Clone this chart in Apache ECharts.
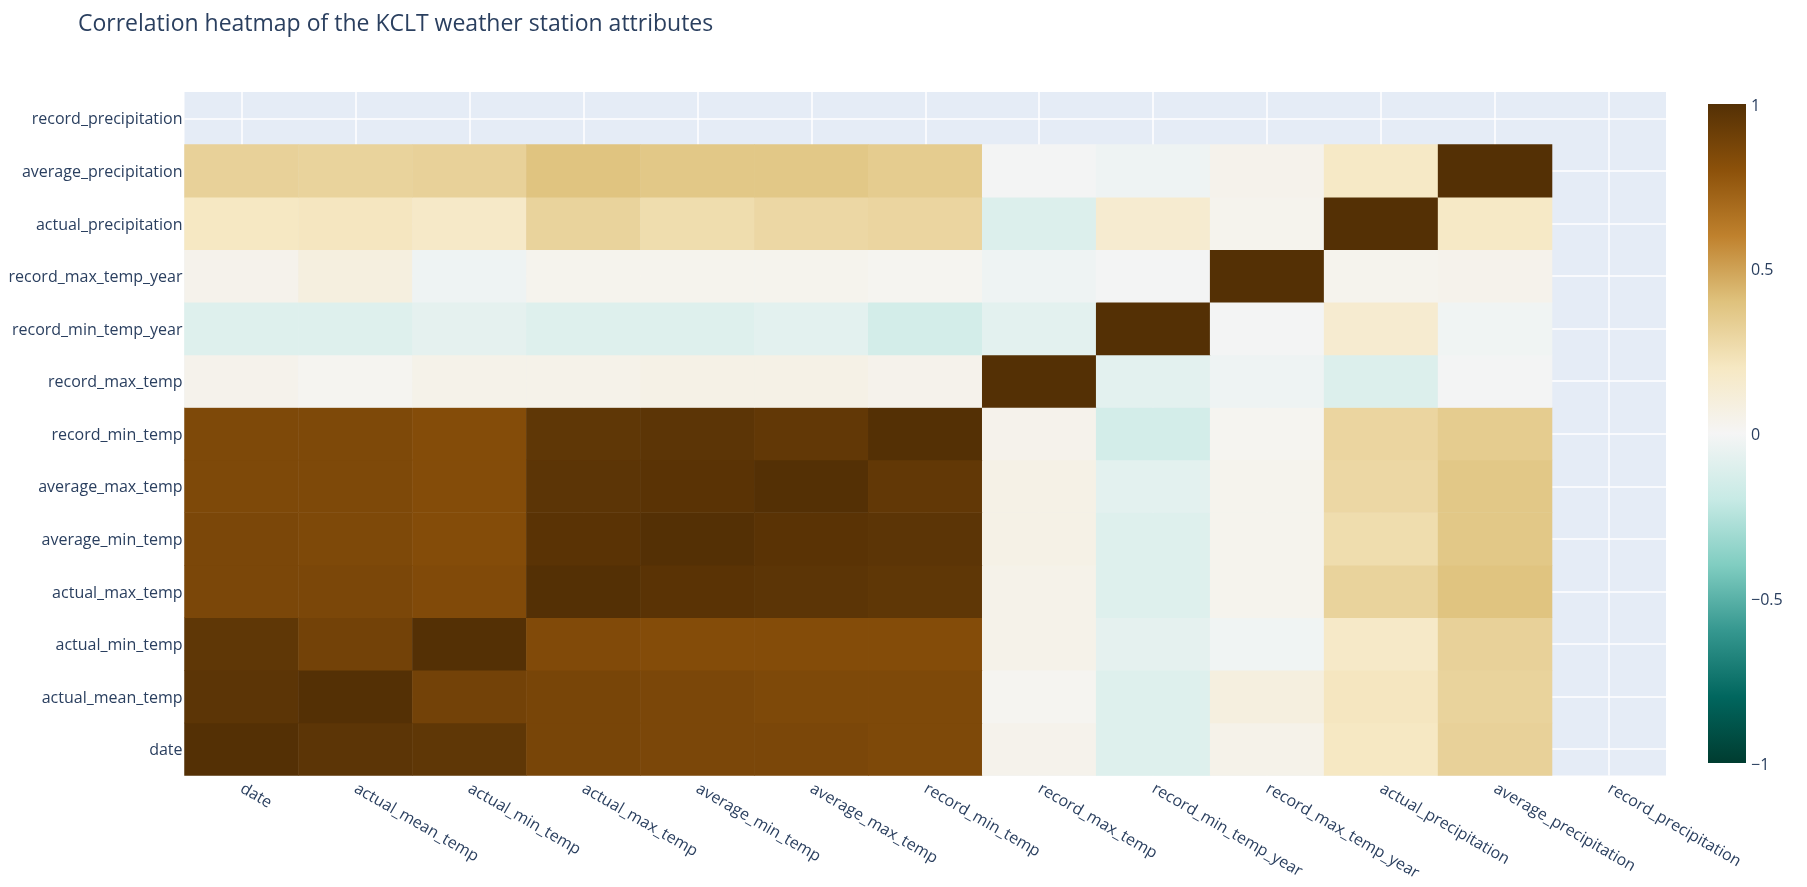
<!DOCTYPE html>
<html><head><meta charset="utf-8">
<style>html,body{margin:0;padding:0;background:#fff}#c{width:1807px;height:887px}</style>
<script src="https://cdn.jsdelivr.net/npm/echarts@6/dist/echarts.min.js"></script>
</head><body><div id="c"></div>
<script>
const titleText = 'Correlation heatmap of the KCLT weather station attributes';
const attributes = ['date','actual_mean_temp','actual_min_temp','actual_max_temp','average_min_temp','average_max_temp','record_min_temp','record_max_temp','record_min_temp_year','record_max_temp_year','actual_precipitation','average_precipitation','record_precipitation'];
const colorStops = ['#003c30','#01665e','#35978f','#80cdc1','#c7eae5','#f5f5f5','#f6e8c3','#dfc27d','#bf812d','#8c510a','#543005'];
const colorbarTicks = {min:-1,max:1,interval:0.5};
// rows bottom to top; the last attribute has no values at all
const rowDate        = [1.00,0.97,0.96,0.87,0.86,0.86,0.85,0.04,-0.10,0.05,0.20,0.32];
const rowMean        = [0.97,1.00,0.89,0.87,0.86,0.85,0.85,0.02,-0.10,0.09,0.21,0.31];
const rowMin         = [0.96,0.89,1.00,0.84,0.83,0.83,0.83,0.05,-0.07,-0.02,0.18,0.32];
const rowMax         = [0.86,0.86,0.84,1.00,0.98,0.97,0.96,0.05,-0.10,0.03,0.31,0.39];
const rowAvgMin      = [0.86,0.85,0.83,0.98,1.00,0.98,0.97,0.06,-0.10,0.03,0.26,0.37];
const rowAvgMax      = [0.85,0.85,0.83,0.97,0.98,1.00,0.95,0.06,-0.08,0.03,0.29,0.37];
const rowRecMin      = [0.85,0.85,0.83,0.96,0.97,0.95,1.00,0.04,-0.15,0.02,0.30,0.35];
const rowRecMax      = [0.04,0.02,0.05,0.05,0.06,0.06,0.04,1.00,-0.08,-0.03,-0.11,-0.01];
const rowRecMinYear  = [-0.10,-0.10,-0.07,-0.10,-0.10,-0.08,-0.15,-0.08,1.00,-0.01,0.15,-0.02];
const rowRecMaxYear  = [0.04,0.09,-0.03,0.03,0.03,0.03,0.02,-0.03,-0.01,1.00,0.03,0.04];
const rowActPrecip   = [0.20,0.21,0.18,0.31,0.26,0.29,0.30,-0.11,0.15,0.03,1.00,0.19];
const rowAvgPrecip   = [0.32,0.31,0.32,0.39,0.37,0.37,0.35,-0.01,-0.03,0.04,0.19,1.00];
const matrix = [rowDate,rowMean,rowMin,rowMax,rowAvgMin,rowAvgMax,rowRecMin,rowRecMax,rowRecMinYear,rowRecMaxYear,rowActPrecip,rowAvgPrecip];

const cells = [];
matrix.forEach((row,y)=>row.forEach((v,x)=>cells.push([x,y,v])));
const FONT = '"Open Sans", verdana, arial, sans-serif';
const INK = '#2a3f5f';
const chart = echarts.init(document.getElementById('c'),null,{renderer:'canvas'});
chart.setOption({
  animation:false,
  backgroundColor:'#fff',
  title:{text:titleText,left:78,top:12.5,padding:0,textStyle:{fontFamily:FONT,fontSize:23,fontWeight:'normal',color:INK}},
  grid:[
    {left:184.5,top:92,width:1481.5,height:683.5,show:true,backgroundColor:'#E5ECF6',borderWidth:0},
    {left:1708,top:104,width:38,height:659,show:false}
  ],
  xAxis:[
    {type:'category',gridIndex:0,data:attributes,boundaryGap:true,
     axisLine:{show:false},axisTick:{show:false},
     splitLine:{show:true,alignWithLabel:true,lineStyle:{color:'#fff',width:1.5}},
     axisLabel:{interval:0,rotate:-30,margin:12,color:INK,fontFamily:FONT,fontSize:16,hideOverlap:false}},
    {type:'value',gridIndex:1,show:false,min:0,max:1}
  ],
  yAxis:[
    {type:'category',gridIndex:0,data:attributes,boundaryGap:true,
     axisLine:{show:false},axisTick:{show:false},
     splitLine:{show:true,alignWithLabel:true,lineStyle:{color:'#fff',width:1.5}},
     axisLabel:{interval:0,margin:2,color:INK,fontFamily:FONT,fontSize:16,
       formatter:v=>'{a|'+v+'}',
       rich:{a:{color:INK,fontFamily:FONT,fontSize:16,padding:[3,0,0,0]}}}},
    {type:'value',gridIndex:1,position:'right',min:colorbarTicks.min,max:colorbarTicks.max,interval:colorbarTicks.interval,
     axisLine:{show:false},axisTick:{show:false},splitLine:{show:false},
     axisLabel:{margin:5,color:INK,fontFamily:FONT,fontSize:16,
       formatter:v=>'{a|'+String(v).replace('-','\u2212')+'}',
       rich:{a:{color:INK,fontFamily:FONT,fontSize:16,padding:[4,0,0,0]}}}}
  ],
  visualMap:{type:'continuous',show:false,min:-1,max:1,seriesIndex:0,inRange:{color:colorStops}},
  series:[
    {type:'heatmap',xAxisIndex:0,yAxisIndex:0,data:cells,progressive:0,itemStyle:{borderWidth:0},emphasis:{disabled:true}},
    {type:'custom',xAxisIndex:1,yAxisIndex:1,silent:true,clip:false,
     data:[[0,colorbarTicks.min,1,colorbarTicks.max]],
     renderItem:(params,api)=>{
       const a=api.coord([api.value(0),api.value(1)]), b=api.coord([api.value(2),api.value(3)]);
       return {type:'rect',shape:{x:a[0],y:b[1],width:b[0]-a[0],height:a[1]-b[1]},
         style:{fill:new echarts.graphic.LinearGradient(0,1,0,0,colorStops.map((c,i)=>({offset:i/(colorStops.length-1),color:c})))}};
     }}
  ]
});
</script></body></html>
